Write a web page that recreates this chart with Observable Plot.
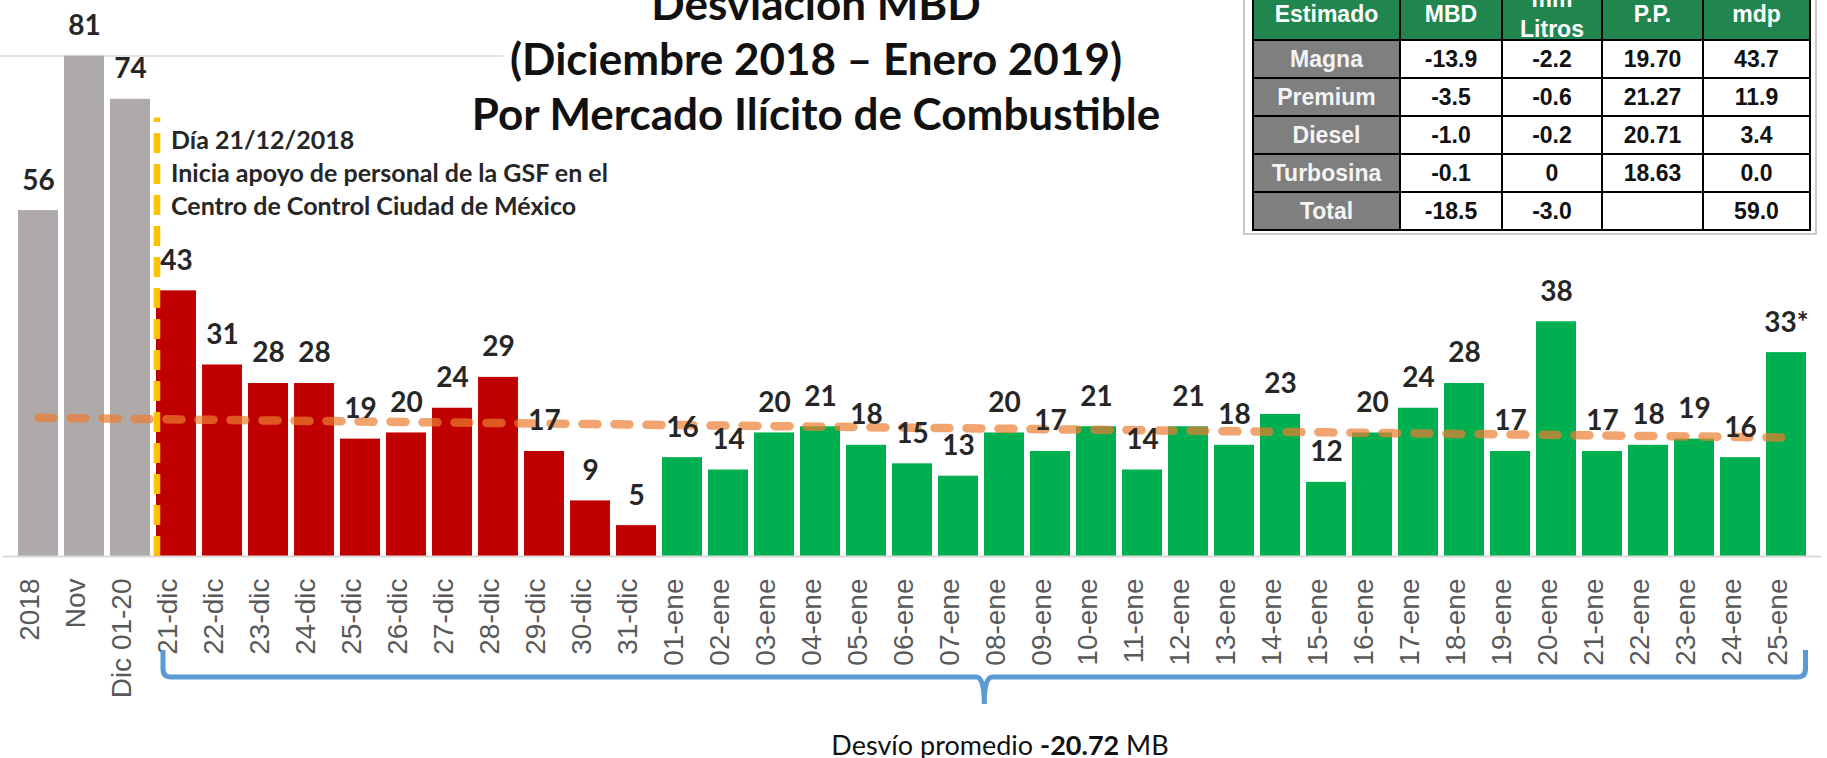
<!DOCTYPE html>
<html>
<head>
<meta charset="utf-8">
<script src="https://cdn.jsdelivr.net/npm/d3@7"></script>
<script src="https://cdn.jsdelivr.net/npm/@observablehq/plot@0.6"></script>
<style>
  html, body { margin: 0; padding: 0; background: #fff; }
  body { width: 1827px; height: 758px; overflow: hidden; position: relative; font-family: Lato, "Open Sans", sans-serif; }
  #topline { position: absolute; left: 0; top: 55px; width: 503px; height: 2px; background: #e4e4e4; }
  #chart { position: absolute; left: 0; top: 0; }
  #title { position: absolute; left: 416px; top: -24px; width: 800px; text-align: center; font-weight: 700; font-size: 44px; line-height: 55px; color: #111; }
  #note { position: absolute; left: 171px; top: 123px; font-weight: 700; font-size: 25px; line-height: 33px; color: #262626; white-space: nowrap; }
  #box { position: absolute; left: 1243px; top: -10px; width: 574px; height: 245px; box-sizing: border-box; border: 2px solid #cacaca; background: #fff; }
  #tbl { position: absolute; left: 1252px; top: -17px; display: grid; grid-template-columns: 145px 100px 98px 99px 105px; grid-template-rows: 54px 36px 36px 36px 36px 36px; gap: 2px; padding: 2px; background: #000; font-family: "Liberation Sans", Arial, sans-serif; font-weight: 700; font-size: 23px; }
  #tbl div { display: flex; align-items: center; justify-content: center; text-align: center; white-space: pre-line; line-height: 26px; }
  #tbl .h { background: #218550; color: #fff; padding-top: 4px; box-sizing: border-box; line-height: 30px; }
  #tbl .r { background: #7f7f7f; color: #f4f4f4; }
  #tbl .c { background: #fff; color: #111; }
  #avg { position: absolute; left: 700px; width: 600px; top: 728px; text-align: center; font-size: 27px; line-height: 34px; color: #111; white-space: nowrap; }
</style>
</head>
<body>
<div id="topline"></div>
<div id="chart"></div>
<div id="title"></div>
<div id="note"></div>
<div id="box"></div>
<div id="tbl"></div>
<div id="avg"></div>
<script>
// ---- Data ----
const histLabels = ["2018", "Nov", "Dic 01-20"];
const histValues = [56, 81, 74];
const decLabels = ["21-dic", "22-dic", "23-dic", "24-dic", "25-dic", "26-dic", "27-dic", "28-dic", "29-dic", "30-dic", "31-dic"];
const decValues = [43, 31, 28, 28, 19, 20, 24, 29, 17, 9, 5];
const janLabels = ["01-ene", "02-ene", "03-ene", "04-ene", "05-ene", "06-ene", "07-ene", "08-ene", "09-ene", "10-ene", "11-ene", "12-ene", "13-ene", "14-ene", "15-ene", "16-ene", "17-ene", "18-ene", "19-ene", "20-ene", "21-ene", "22-ene", "23-ene", "24-ene", "25-ene"];
const janValues = [16, 14, 20, 21, 18, 15, 13, 20, 17, 21, 14, 21, 18, 23, 12, 20, 24, 28, 17, 38, 17, 18, 19, 16, 33];
const asteriskDays = ["25-ene"];

const titleLines = ["Desviación MBD", "(Diciembre 2018 – Enero 2019)", "Por Mercado Ilícito de Combustible"];
const noteLines = ["Día 21/12/2018", "Inicia apoyo de personal de la GSF en el", "Centro de Control Ciudad de México"];

const tableHeader = ["Estimado", "MBD", "mm\nLitros", "P.P.", "mdp"];
const fuels = ["Magna", "Premium", "Diesel", "Turbosina", "Total"];
const fuelMBD = ["-13.9", "-3.5", "-1.0", "-0.1", "-18.5"];
const fuelLitros = ["-2.2", "-0.6", "-0.2", "0", "-3.0"];
const fuelPP = ["19.70", "21.27", "20.71", "18.63", ""];
const fuelMdp = ["43.7", "11.9", "3.4", "0.0", "59.0"];

// ---- Build tables ----
const categories = [...histLabels, ...decLabels, ...janLabels];
const data = [
  ...histLabels.map((c, i) => ({cat: c, value: histValues[i], group: "hist"})),
  ...decLabels.map((c, i) => ({cat: c, value: decValues[i], group: "dic"})),
  ...janLabels.map((c, i) => ({cat: c, value: janValues[i], group: "ene"}))
].map(d => ({...d, label: d.value + (asteriskDays.includes(d.cat) ? "*" : "")}));

// Linear trend of the daily values (21-dic onward), extended across all bars
const dayValues = [...decValues, ...janValues];
const n = dayValues.length;
const mx = (n - 1) / 2;
const my = d3.mean(dayValues);
const slope = d3.sum(dayValues, (v, i) => (i - mx) * (v - my)) / d3.sum(dayValues, (v, i) => (i - mx) ** 2);
const trend = categories.map((c, k) => ({cat: c, value: my + slope * (k - histLabels.length - mx)}));

const plot = Plot.plot({
  width: 1827,
  height: 758,
  marginLeft: 3,
  marginRight: 6,
  marginTop: 0,
  marginBottom: 202,
  x: {domain: categories, padding: 0.135, axis: null},
  y: {domain: [0, 90], axis: null},
  color: {domain: ["hist", "dic", "ene"], range: ["#AEAAAA", "#C00000", "#00B050"]},
  style: {background: "transparent", overflow: "visible"},
  marks: [
    Plot.barY(data, {x: "cat", y: "value", fill: "group"}),
    Plot.ruleY([0], {stroke: "#d9d9d9", strokeWidth: 2}),
    Plot.ruleX([decLabels[0]], {x: d => d, y1: 0, y2: 71, dx: -19.5, stroke: "#FFC000", strokeWidth: 6.5, strokeDasharray: "20,11"}),
    Plot.line(trend, {x: "cat", y: "value", stroke: "#ED7D31", strokeOpacity: 0.7, strokeWidth: 8.5, strokeLinecap: "round", strokeDasharray: "15,17"}),
    Plot.text(data, {x: "cat", y: "value", text: "label", dy: -30, fontSize: 28, fontWeight: "bold", fill: "#262626", fontFamily: "Lato"}),
    Plot.text(categories, {x: d => d, frameAnchor: "bottom", rotate: -90, textAnchor: "end", dy: 22, fontSize: 28, fill: "#595959", fontFamily: "Liberation Sans"})
  ]
});
document.getElementById("chart").appendChild(plot);

// Blue brace under the daily period, placed with the plot's x scale
const sx = plot.scale("x");
const x0 = sx.apply(decLabels[0]) + 7;
const x1 = sx.apply(janLabels[janLabels.length - 1]) + sx.bandwidth - 0.5;
const xm = (x0 + x1) / 2;
const yTop = 650, yH = 677, yTip = 704;
const path = `M${x0},${yTop} L${x0},${yH - 8} Q${x0},${yH} ${x0 + 8},${yH} L${xm - 8},${yH} Q${xm},${yH} ${xm},${yTip} Q${xm},${yH} ${xm + 8},${yH} L${x1 - 8},${yH} Q${x1},${yH} ${x1},${yH - 8} L${x1},${yTop}`;
const ns = "http://www.w3.org/2000/svg";
const brace = document.createElementNS(ns, "path");
brace.setAttribute("d", path);
brace.setAttribute("fill", "none");
brace.setAttribute("stroke", "#5B9BD5");
brace.setAttribute("stroke-width", "5");
plot.appendChild(brace);

// Texts
document.getElementById("title").innerHTML = titleLines.map(t => `<div>${t}</div>`).join("");
document.getElementById("note").innerHTML = noteLines.map(t => `<div>${t}</div>`).join("");
document.getElementById("avg").innerHTML = `Desvío promedio <b>-${my.toFixed(2)}</b> MB`;

const tbl = document.getElementById("tbl");
let html = tableHeader.map(h => `<div class="h">${h}</div>`).join("");
fuels.forEach((f, i) => {
  html += `<div class="r">${f}</div><div class="c">${fuelMBD[i]}</div><div class="c">${fuelLitros[i]}</div><div class="c">${fuelPP[i]}</div><div class="c">${fuelMdp[i]}</div>`;
});
tbl.innerHTML = html;
</script>
</body>
</html>
